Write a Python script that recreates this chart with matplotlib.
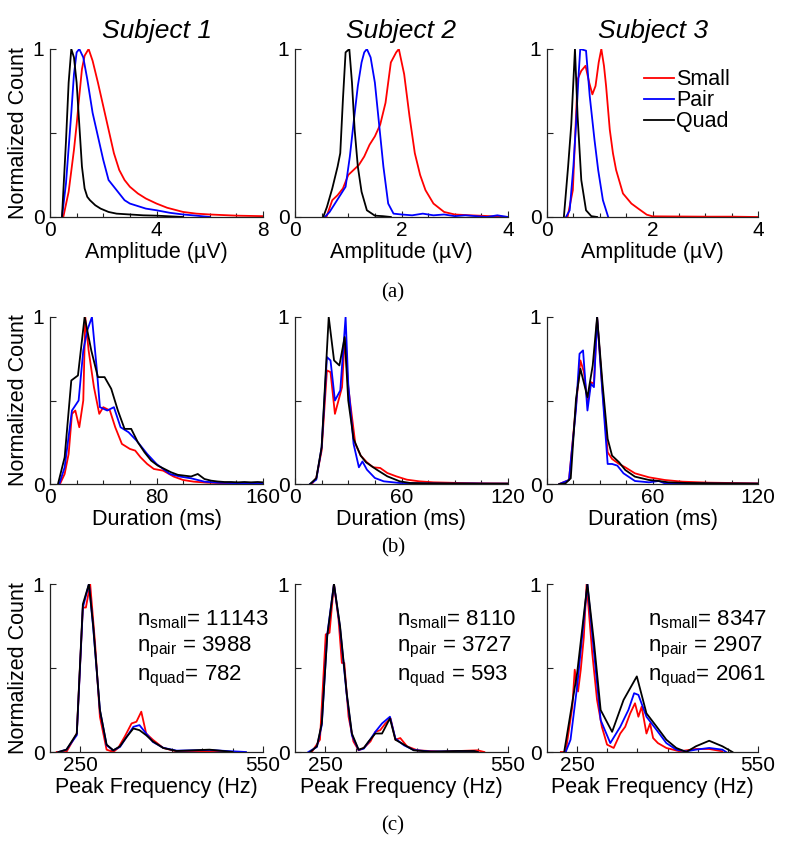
import matplotlib
matplotlib.use('Agg')
import matplotlib.pyplot as plt

plt.rcParams['font.family'] = ['Liberation Sans', 'DejaVu Sans']
plt.rcParams['mathtext.fontset'] = 'custom'
plt.rcParams['mathtext.rm'] = 'Liberation Sans'
plt.rcParams['mathtext.it'] = 'Liberation Sans:italic'

# ---- amplitude, subject 1
amp1_small_x = [0.5, 0.7, 0.9, 1.0, 1.1, 1.2, 1.3, 1.45, 1.6, 1.8, 2.0, 2.2, 2.4, 2.6, 2.8, 3.0, 3.3, 3.6, 4.0, 4.4, 5.0, 5.5, 6.0, 7.0, 8.0]
amp1_small_y = [0.0, 0.15, 0.4, 0.55, 0.72, 0.88, 0.96, 1.0, 0.93, 0.8, 0.66, 0.52, 0.38, 0.28, 0.22, 0.18, 0.14, 0.11, 0.08, 0.055, 0.03, 0.02, 0.015, 0.008, 0.005]
amp1_pair_x = [0.45, 0.6, 0.8, 0.9, 1.0, 1.1, 1.25, 1.4, 1.6, 1.8, 2.0, 2.2, 2.4, 2.6, 2.8, 3.0, 3.3, 3.6, 4.0, 4.5, 5.0, 5.5, 6.0]
amp1_pair_y = [0.0, 0.2, 0.62, 0.85, 0.98, 1.0, 0.95, 0.82, 0.62, 0.48, 0.34, 0.22, 0.18, 0.14, 0.1, 0.08, 0.065, 0.05, 0.04, 0.025, 0.015, 0.008, 0.0]
amp1_quad_x = [0.45, 0.6, 0.7, 0.8, 0.9, 1.0, 1.1, 1.2, 1.3, 1.4, 1.5, 1.7, 1.9, 2.2, 2.5, 3.0, 3.5, 4.0, 4.5, 5.0]
amp1_quad_y = [0.0, 0.45, 0.8, 1.0, 0.95, 0.8, 0.55, 0.3, 0.17, 0.12, 0.1, 0.07, 0.05, 0.03, 0.02, 0.015, 0.01, 0.008, 0.004, 0.0]

# ---- amplitude, subject 2
amp2_small_x = [0.59, 0.7, 0.8, 0.9, 1.0, 1.1, 1.2, 1.3, 1.4, 1.5, 1.6, 1.7, 1.8, 1.9, 1.95, 2.05, 2.15, 2.25, 2.35, 2.45, 2.6, 2.8, 3.0, 3.3, 3.6, 4.0]
amp2_small_y = [0.0, 0.1, 0.13, 0.17, 0.25, 0.28, 0.31, 0.36, 0.43, 0.48, 0.55, 0.68, 0.92, 0.98, 1.0, 0.85, 0.6, 0.38, 0.25, 0.16, 0.08, 0.03, 0.015, 0.01, 0.006, 0.0]
amp2_pair_x = [0.56, 0.65, 0.75, 0.85, 0.95, 1.03, 1.1, 1.18, 1.25, 1.3, 1.35, 1.42, 1.5, 1.58, 1.66, 1.75, 1.85, 2.0, 2.2, 2.4, 2.6, 2.8, 3.0, 3.2, 3.4, 3.6, 3.8, 4.0]
amp2_pair_y = [0.0, 0.03, 0.08, 0.13, 0.18, 0.36, 0.56, 0.78, 0.92, 0.98, 1.0, 0.95, 0.8, 0.55, 0.3, 0.08, 0.02, 0.015, 0.01, 0.02, 0.01, 0.015, 0.005, 0.01, 0.005, 0.0, 0.01, 0.0]
amp2_quad_x = [0.53, 0.6, 0.7, 0.8, 0.85, 0.9, 0.95, 1.02, 1.07, 1.12, 1.18, 1.25, 1.35, 1.5, 1.65, 1.8]
amp2_quad_y = [0.0, 0.06, 0.17, 0.3, 0.38, 0.7, 0.98, 1.0, 0.8, 0.52, 0.3, 0.15, 0.04, 0.008, 0.005, 0.0]

# ---- amplitude, subject 3
amp3_small_x = [0.39, 0.49, 0.58, 0.65, 0.73, 0.8, 0.86, 0.92, 0.98, 1.03, 1.08, 1.12, 1.19, 1.25, 1.31, 1.44, 1.6, 1.73, 1.89, 2.0, 2.5, 3.0, 3.5, 4.0]
amp3_small_y = [0.0, 0.16, 0.82, 0.87, 0.9, 0.8, 0.73, 0.78, 0.92, 1.0, 0.9, 0.78, 0.52, 0.38, 0.28, 0.14, 0.08, 0.05, 0.014, 0.004, 0.003, 0.002, 0.002, 0.0]
amp3_pair_x = [0.36, 0.43, 0.5, 0.55, 0.6, 0.63, 0.74, 0.81, 0.9, 0.97, 1.06, 1.16]
amp3_pair_y = [0.0, 0.04, 0.3, 0.55, 0.85, 1.0, 0.99, 0.72, 0.46, 0.28, 0.1, 0.0]
amp3_quad_x = [0.32, 0.4, 0.46, 0.53, 0.58, 0.65, 0.74, 0.84, 0.95]
amp3_quad_y = [0.0, 0.3, 0.55, 1.0, 0.6, 0.22, 0.04, 0.005, 0.0]

# ---- duration, subject 1
dur1_small_x = [7.5, 11, 14, 16.5, 19, 22, 25, 26.5, 29, 33, 37, 40, 45, 49, 54, 60, 64, 68, 73, 78, 85, 93, 100, 108, 118, 130, 145, 160]
dur1_small_y = [0, 0.06, 0.18, 0.42, 0.44, 0.34, 0.5, 1.0, 0.8, 0.58, 0.42, 0.46, 0.44, 0.34, 0.24, 0.21, 0.2, 0.16, 0.12, 0.09, 0.08, 0.044, 0.024, 0.014, 0.008, 0.005, 0.004, 0.003]
dur1_pair_x = [7, 11, 16.5, 21.5, 25, 28, 31.5, 35, 37.5, 43, 48, 53, 59, 65, 73, 80, 90, 98, 106, 116, 126, 140, 160]
dur1_pair_y = [0, 0.1, 0.44, 0.5, 0.8, 0.92, 1.0, 0.7, 0.46, 0.44, 0.46, 0.34, 0.31, 0.26, 0.18, 0.12, 0.06, 0.044, 0.034, 0.014, 0.008, 0.005, 0.003]
dur1_quad_x = [6, 11, 16, 21, 26, 31, 36, 41, 46, 51, 56, 61, 66, 71, 76, 81, 86, 91, 96, 101, 106, 111, 116, 121, 126, 131, 136, 141, 146, 151, 156, 160]
dur1_quad_y = [0, 0.16, 0.62, 0.65, 1.0, 0.8, 0.64, 0.64, 0.57, 0.44, 0.33, 0.33, 0.25, 0.19, 0.14, 0.11, 0.09, 0.07, 0.055, 0.05, 0.045, 0.06, 0.03, 0.02, 0.015, 0.012, 0.012, 0.01, 0.012, 0.01, 0.012, 0.01]

# ---- duration, subject 2
dur2_small_x = [9.5, 12, 15, 18, 20, 22.5, 25.5, 26.5, 28, 30, 34, 37, 40.5, 44, 48, 52, 57, 63, 70, 78, 93, 105, 120]
dur2_small_y = [0, 0.036, 0.2, 0.68, 0.67, 0.42, 0.54, 0.58, 0.87, 0.58, 0.24, 0.17, 0.13, 0.1, 0.096, 0.066, 0.046, 0.026, 0.016, 0.01, 0.006, 0.004, 0.003]
dur2_pair_x = [8.5, 12, 15, 18, 20, 22.5, 25.5, 28.5, 30, 33, 36, 38, 40.5, 45, 50, 59, 70, 85, 100, 110, 120]
dur2_pair_y = [0, 0.026, 0.22, 0.76, 0.74, 0.5, 0.56, 1.0, 0.6, 0.24, 0.1, 0.135, 0.086, 0.036, 0.016, 0.006, 0.004, 0.002, 0.003, 0.002, 0.002]
dur2_quad_x = [8.5, 12, 15, 19, 22, 25, 28, 30, 33, 37, 40, 46, 52, 59, 65, 75, 90, 105, 120]
dur2_quad_y = [0, 0.035, 0.22, 1.0, 0.74, 0.71, 0.88, 0.5, 0.27, 0.17, 0.13, 0.086, 0.046, 0.016, 0.006, 0.004, 0.003, 0.002, 0.002]

# ---- duration, subject 3
dur3_small_x = [7, 12.5, 16.5, 19, 21, 23, 25, 26.7, 28.5, 31.5, 34.5, 37, 41, 44.5, 50, 58, 67, 77, 92, 105, 120]
dur3_small_y = [0, 0.024, 0.47, 0.74, 0.67, 0.49, 0.61, 0.6, 1.0, 0.57, 0.19, 0.15, 0.12, 0.1, 0.064, 0.04, 0.024, 0.014, 0.008, 0.006, 0.004]
dur3_pair_x = [7, 12.5, 16.5, 18.5, 20.5, 23, 25, 26.7, 28.5, 31.5, 34.5, 37, 40, 43.5, 50, 58, 63.5, 67, 80, 100, 120]
dur3_pair_y = [0, 0.024, 0.45, 0.78, 0.8, 0.44, 0.6, 0.58, 1.0, 0.55, 0.12, 0.12, 0.11, 0.064, 0.018, 0.01, 0.018, 0.004, 0.003, 0.002, 0.002]
dur3_quad_x = [7, 10.5, 13.5, 16.5, 19, 23, 26, 28.5, 31.5, 34.5, 37, 41, 44.5, 50, 58, 63.5, 69, 80, 95, 110, 120]
dur3_quad_y = [0, 0.004, 0.034, 0.51, 0.69, 0.52, 0.71, 1.0, 0.61, 0.27, 0.17, 0.13, 0.084, 0.044, 0.024, 0.018, 0.01, 0.006, 0.004, 0.003, 0.002]

# ---- peak frequency, subject 1
freq1_small_x = [211, 227, 244, 254, 259, 266, 274, 282, 293, 304, 312, 323, 334, 342, 350, 358, 369, 386, 408, 435, 473, 490]
freq1_small_y = [0, 0, 0.11, 0.86, 0.86, 1.0, 0.65, 0.21, 0.014, 0.0, 0.024, 0.093, 0.17, 0.18, 0.24, 0.11, 0.073, 0.024, 0.004, 0.004, 0.002, 0]
freq1_pair_x = [214, 227, 244, 254, 264, 271, 282, 293, 304, 315, 326, 337, 347, 358, 369, 386, 408, 435, 462, 490, 522]
freq1_pair_y = [0, 0.014, 0.1, 0.86, 1.0, 0.74, 0.25, 0.04, 0.01, 0.03, 0.09, 0.15, 0.16, 0.11, 0.06, 0.025, 0.008, 0.01, 0.012, 0.006, 0]
freq1_quad_x = [214, 227, 244, 254, 264, 271, 282, 293, 304, 315, 326, 337, 347, 358, 369, 386, 408, 435, 462, 490, 500]
freq1_quad_y = [0, 0.014, 0.11, 0.88, 1.0, 0.75, 0.25, 0.044, 0.01, 0.034, 0.09, 0.14, 0.13, 0.1, 0.063, 0.024, 0.006, 0.01, 0.014, 0.004, 0]

# ---- peak frequency, subject 2
freq2_small_x = [227.5, 241, 250.5, 256.7, 264, 271.5, 277, 281, 288, 296, 304.5, 313, 324, 332, 340, 348.6, 357, 365, 373, 384, 401, 440, 500, 511]
freq2_small_y = [0, 0.073, 0.7, 0.71, 1.0, 0.79, 0.53, 0.53, 0.21, 0.063, 0.01, 0.024, 0.063, 0.12, 0.13, 0.17, 0.2, 0.073, 0.083, 0.034, 0.01, 0.002, 0.01, 0]
freq2_pair_x = [222, 236, 244, 253, 264, 274, 285, 293.5, 304.5, 313, 321, 332, 343, 356, 365, 379, 395, 423, 467, 494, 500]
freq2_pair_y = [0, 0.03, 0.16, 0.7, 1.0, 0.74, 0.34, 0.1, 0.012, 0.02, 0.06, 0.12, 0.17, 0.21, 0.08, 0.04, 0.012, 0.003, 0.004, 0.004, 0]
freq2_quad_x = [225, 236, 244, 253, 264, 274, 285, 293.5, 304.5, 313, 321, 332, 343, 356, 365, 379, 395, 423, 467, 494, 500]
freq2_quad_y = [0, 0.034, 0.17, 0.69, 1.0, 0.75, 0.35, 0.11, 0.014, 0.024, 0.063, 0.11, 0.11, 0.2, 0.073, 0.044, 0.01, 0.002, 0.006, 0.006, 0]

# ---- peak frequency, subject 3
freq3_small_x = [223, 231, 242, 246, 251.5, 256, 261, 265.7, 275, 283, 291, 299.6, 310.6, 321.5, 329.7, 338, 346, 351.6, 357, 365, 371, 376, 384, 398, 420, 447, 469, 491]
freq3_small_y = [0, 0, 0.27, 0.49, 0.36, 0.49, 0.68, 1.0, 0.59, 0.31, 0.15, 0.044, 0.024, 0.11, 0.15, 0.23, 0.29, 0.21, 0.27, 0.11, 0.17, 0.083, 0.053, 0.024, 0.004, 0.018, 0.018, 0.004]
freq3_pair_x = [231, 239, 250, 267, 278, 289, 305, 321.5, 335, 344.5, 351.6, 365, 382, 398, 414.5, 431, 447, 469, 491, 497]
freq3_pair_y = [0, 0.073, 0.39, 1.0, 0.59, 0.19, 0.053, 0.15, 0.25, 0.35, 0.34, 0.21, 0.13, 0.053, 0.014, 0.004, 0.014, 0.024, 0.014, 0]
freq3_quad_x = [228.5, 250, 267, 278, 289, 308, 327, 349, 365, 382, 398, 414.5, 431, 447, 469, 491, 507.6]
freq3_quad_y = [0, 0.47, 1.0, 0.65, 0.25, 0.12, 0.31, 0.45, 0.23, 0.15, 0.073, 0.024, 0, 0.034, 0.067, 0.034, 0]

subjects = ['Subject 1', 'Subject 2', 'Subject 3']
row_tags = ['(a)', '(b)', '(c)']
xlabels = ['Amplitude (µV)', 'Duration (ms)', 'Peak Frequency (Hz)']
counts_text = [
    [r'$\mathregular{n_{small}}$= 11143', r'$\mathregular{n_{pair}}$ = 3988', r'$\mathregular{n_{quad}}$= 782'],
    [r'$\mathregular{n_{small}}$= 8110', r'$\mathregular{n_{pair}}$ = 3727', r'$\mathregular{n_{quad}}$ = 593'],
    [r'$\mathregular{n_{small}}$= 8347', r'$\mathregular{n_{pair}}$ = 2907', r'$\mathregular{n_{quad}}$= 2061'],
]

panels = [
    [(amp1_small_x, amp1_small_y, amp1_pair_x, amp1_pair_y, amp1_quad_x, amp1_quad_y),
     (amp2_small_x, amp2_small_y, amp2_pair_x, amp2_pair_y, amp2_quad_x, amp2_quad_y),
     (amp3_small_x, amp3_small_y, amp3_pair_x, amp3_pair_y, amp3_quad_x, amp3_quad_y)],
    [(dur1_small_x, dur1_small_y, dur1_pair_x, dur1_pair_y, dur1_quad_x, dur1_quad_y),
     (dur2_small_x, dur2_small_y, dur2_pair_x, dur2_pair_y, dur2_quad_x, dur2_quad_y),
     (dur3_small_x, dur3_small_y, dur3_pair_x, dur3_pair_y, dur3_quad_x, dur3_quad_y)],
    [(freq1_small_x, freq1_small_y, freq1_pair_x, freq1_pair_y, freq1_quad_x, freq1_quad_y),
     (freq2_small_x, freq2_small_y, freq2_pair_x, freq2_pair_y, freq2_quad_x, freq2_quad_y),
     (freq3_small_x, freq3_small_y, freq3_pair_x, freq3_pair_y, freq3_quad_x, freq3_quad_y)],
]

# axis limits / ticks for each panel (row, col)
xlims = [[(0, 8), (0, 4), (0, 4)],
         [(0, 160), (0, 120), (0, 120)],
         [(200, 550), (200, 550), (200, 550)]]
xticks_major = [[[0, 4, 8], [0, 2, 4], [0, 2, 4]],
                [[0, 80, 160], [0, 60, 120], [0, 60, 120]],
                [[250, 550], [250, 550], [250, 550]]]

W, H = 785, 844
col_px = [(50, 263), (295, 508), (547, 758)]
row_px = [(49, 217), (317, 484), (584, 752)]

fig = plt.figure(figsize=(W / 100, H / 100), dpi=100)
fs = 15.5
axc = '#222222'

for r in range(3):
    for c in range(3):
        x0, x1 = col_px[c]
        y0, y1 = row_px[r]
        ax = fig.add_axes([x0 / W, 1 - y1 / H, (x1 - x0) / W, (y1 - y0) / H])
        sx, sy, px, py, qx, qy = panels[r][c]
        ax.plot(sx, sy, color='#ff0000', lw=1.3, label='Small')
        ax.plot(px, py, color='#0000ff', lw=1.3, label='Pair')
        ax.plot(qx, qy, color='black', lw=1.3, label='Quad')

        lo, hi = xlims[r][c]
        ax.set_xlim(lo, hi)
        ax.set_ylim(0, 1.0)
        ax.set_yticks([0, 0.5, 1])
        ax.set_yticklabels(['0', '', '1'])
        maj = xticks_major[r][c]
        ax.set_xticks(maj)
        ax.set_xticklabels([str(v) for v in maj])
        if r < 2:
            step = (hi - lo) / 8
            ax.set_xticks([lo + i * step for i in range(9)], minor=True)
        else:
            ax.set_xticks([300, 350, 400, 450, 500], minor=True)
        ax.tick_params(which='both', direction='in', labelsize=15,
                       color=axc, width=0.8)
        ax.tick_params(axis='x', pad=3)
        ax.tick_params(axis='y', pad=4)
        ax.tick_params(which='major', length=4)
        ax.tick_params(which='minor', length=3)
        for s in ['top', 'right']:
            ax.spines[s].set_visible(False)
        for s in ['left', 'bottom']:
            ax.spines[s].set_color(axc)
            ax.spines[s].set_linewidth(0.9)
        ax.set_xlabel(xlabels[r], fontsize=fs, labelpad=1)
        if c == 0:
            ax.set_ylabel('Normalized Count', fontsize=fs, labelpad=3)
        if r == 0:
            ax.set_title(subjects[c], fontsize=19, style='italic', pad=8)
        if r == 0 and c == 2:
            ax.legend(loc='upper left', bbox_to_anchor=(0.46, 0.88), frameon=False,
                      fontsize=fs, handlelength=1.4, handletextpad=0.1,
                      labelspacing=0.0, borderpad=0, borderaxespad=0)
        if r == 2:
            tx = 0.41 if c == 0 else 0.48
            for ty, t in zip([0.79, 0.62, 0.45], counts_text[c]):
                ax.text(tx, ty, t, transform=ax.transAxes, fontsize=16,
                        ha='left', va='center')

for tag, y in zip(row_tags, [293, 548, 826]):
    fig.text(393 / W, 1 - y / H, tag, ha='center', va='center', fontsize=15,
             family=['Liberation Serif', 'DejaVu Serif'])

fig.savefig('out.png', dpi=100)
